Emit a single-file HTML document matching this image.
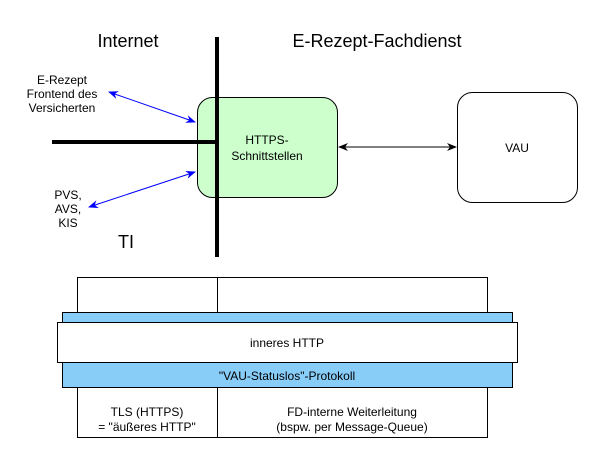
<!DOCTYPE html>
<html><head><meta charset="utf-8"><style>
body{margin:0;background:#fff;}
svg{display:block;font-family:"Liberation Sans",Arial,sans-serif;}
</style></head><body>
<svg width="594" height="454" viewBox="0 0 594 454" xmlns="http://www.w3.org/2000/svg">
<defs>
<marker id="ab" markerWidth="10" markerHeight="8" refX="9" refY="4" orient="auto-start-reverse" markerUnits="userSpaceOnUse"><path d="M0,0 L10,4 L0,8 L3,4 Z" fill="#0000ff"/></marker>
<marker id="ak" markerWidth="10" markerHeight="8" refX="9" refY="4" orient="auto-start-reverse" markerUnits="userSpaceOnUse"><path d="M0,0 L10,4 L0,8 L3,4 Z" fill="#000"/></marker>
</defs>
<text x="128" y="47" font-size="18" text-anchor="middle">Internet</text>
<text x="377" y="47" font-size="18" text-anchor="middle">E-Rezept-Fachdienst</text>
<text x="126" y="248" font-size="18" text-anchor="middle">TI</text>
<rect x="197.5" y="97.5" width="140" height="100" rx="15" fill="#ccffcc" stroke="#000"/>
<text x="267" y="144" font-size="12" text-anchor="middle">HTTPS-</text>
<text x="267" y="160" font-size="12" text-anchor="middle">Schnittstellen</text>
<rect x="457.5" y="92.5" width="120" height="110" rx="15" fill="#fff" stroke="#000"/>
<text x="517" y="152" font-size="12" text-anchor="middle">VAU</text>
<line x1="217" y1="37" x2="217" y2="257" stroke="#000" stroke-width="4"/>
<line x1="52" y1="142" x2="217" y2="142" stroke="#000" stroke-width="4"/>
<line x1="339" y1="147" x2="456" y2="147" stroke="#000" marker-start="url(#ak)" marker-end="url(#ak)"/>
<line x1="109" y1="92" x2="195" y2="122" stroke="#0000ff" marker-start="url(#ab)" marker-end="url(#ab)"/>
<line x1="89" y1="207" x2="195" y2="172" stroke="#0000ff" marker-start="url(#ab)" marker-end="url(#ab)"/>
<g font-size="12" text-anchor="middle">
<text x="62" y="84">E-Rezept</text>
<text x="62" y="98">Frontend des</text>
<text x="62" y="112">Versicherten</text>
<text x="68" y="199">PVS,</text>
<text x="68" y="213">AVS,</text>
<text x="68" y="227">KIS</text>
</g>
<rect x="77.5" y="277.5" width="140" height="160" fill="#fff" stroke="#000"/>
<rect x="217.5" y="277.5" width="270" height="160" fill="#fff" stroke="#000"/>
<rect x="62.5" y="312.5" width="450" height="75" fill="#88ccf8" stroke="#000"/>
<rect x="57.5" y="322.5" width="460" height="40" fill="#fff" stroke="#000"/>
<g font-size="12" text-anchor="middle">
<text x="287" y="347">inneres HTTP</text>
<text x="287" y="380">"VAU-Statuslos"-Protokoll</text>
<text x="147" y="416">TLS (HTTPS)</text>
<text x="147" y="431">= "äußeres HTTP"</text>
<text x="352" y="416">FD-interne Weiterleitung</text>
<text x="352" y="431">(bspw. per Message-Queue)</text>
</g>
</svg>
</body></html>
